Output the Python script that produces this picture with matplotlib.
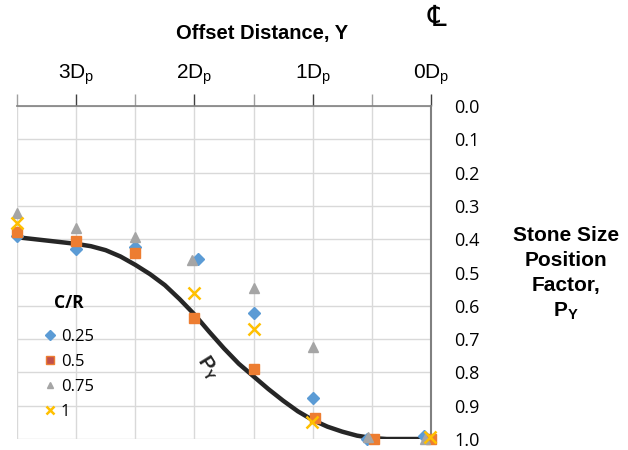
import numpy as np
import matplotlib
matplotlib.use("Agg")
import matplotlib.pyplot as plt
from matplotlib.ticker import FixedLocator, FormatStrFormatter

plt.rcParams['mathtext.fontset'] = 'custom'
plt.rcParams['mathtext.rm'] = 'Liberation Sans'
plt.rcParams['mathtext.bf'] = 'Liberation Sans:bold'

# offset distance in pile diameters (Dp), and P_Y values
x_025 = [3.5, 3.0, 2.5, 1.97, 1.5, 1.0, 0.54, 0.06]
y_025 = [0.39, 0.43, 0.422, 0.46, 0.623, 0.878, 1.0, 0.99]

x_05 = [3.5, 3.0, 2.5, 2.0, 1.5, 0.98, 0.48, 0.0]
y_05 = [0.377, 0.404, 0.44, 0.638, 0.79, 0.936, 1.0, 1.0]

x_075 = [3.5, 3.0, 2.5, 2.02, 1.5, 1.0, 0.53, 0.05]
y_075 = [0.322, 0.367, 0.394, 0.462, 0.546, 0.723, 0.995, 1.0]

x_1 = [3.5, 2.0, 1.5, 1.01, 0.01]
y_1 = [0.35, 0.5625, 0.67, 0.95, 0.995]

# design curve P_Y
curve_x = [3.5, 3.375, 3.25, 3.125, 3.0, 2.875, 2.75, 2.625, 2.5, 2.375, 2.25,
           2.125, 2.0, 1.875, 1.75, 1.625, 1.5, 1.375, 1.25, 1.125, 1.0, 0.875,
           0.75, 0.625, 0.5, 0.375, 0.25, 0.0]
curve_y = [0.394, 0.399, 0.404, 0.409, 0.414, 0.421, 0.433, 0.452, 0.477, 0.505, 0.538,
           0.580, 0.626, 0.678, 0.728, 0.774, 0.812, 0.850, 0.885, 0.917, 0.943, 0.963,
           0.978, 0.990, 0.997, 1.0, 1.0, 1.0]

major_x = [3, 2, 1, 0]
major_lbl = [r'$\mathrm{3D_p}$', r'$\mathrm{2D_p}$', r'$\mathrm{1D_p}$', r'$\mathrm{0D_p}$']
minor_x = [3.5, 2.5, 1.5, 0.5]
y_ticks = [0.0, 0.1, 0.2, 0.3, 0.4, 0.5, 0.6, 0.7, 0.8, 0.9, 1.0]

fig = plt.figure(figsize=(6.28, 4.5), dpi=100)
ax = fig.add_axes([17/628, 1-439/450, (431-17)/628, (439-106)/450])

ax.plot(curve_x, curve_y, color='#262626', lw=3.2, zorder=3, solid_capstyle='butt')

ax.plot(x_025, y_025, 'D', ms=6, color='#5B9BD5', mec='#5B9BD5', ls='none',
        label='0.25', zorder=4, clip_on=False)
ax.plot(x_05, y_05, 's', ms=7.5, color='#ED7D31', mec='#ED7D31', ls='none',
        label='0.5', zorder=4, clip_on=False)
ax.plot(x_075, y_075, '^', ms=7.5, color='#A5A5A5', mec='#A5A5A5', ls='none',
        label='0.75', zorder=4, clip_on=False)
ax.plot(x_1, y_1, 'x', ms=8.5, mew=1.8, color='#FFC000', ls='none',
        label='1', zorder=5, clip_on=False)

ax.set_xlim(3.5, 0)
ax.set_ylim(1.0, 0.0)

ax.xaxis.tick_top()
ax.xaxis.set_major_locator(FixedLocator(major_x))
ax.xaxis.set_minor_locator(FixedLocator(minor_x))
ax.set_xticklabels(major_lbl)
ax.tick_params(axis='x', which='major', direction='out', length=9, width=1.0,
               color='#404040', pad=5, labelsize=15)
ax.tick_params(axis='x', which='minor', direction='out', length=9, width=1.0, color='#A0A0A0')

ax.yaxis.tick_right()
ax.set_yticks(y_ticks)
ax.yaxis.set_major_formatter(FormatStrFormatter('%.1f'))
ax.tick_params(axis='y', length=0, pad=17, labelsize=13)
for t in ax.get_yticklabels():
    t.set_fontfamily('Open Sans')
    t.set_horizontalalignment('left')

ax.grid(True, which='both', axis='x', color='#D9D9D9', lw=1.0, zorder=0)
ax.grid(True, which='major', axis='y', color='#D9D9D9', lw=1.0, zorder=0)
ax.set_axisbelow(True)

for s in ['left', 'bottom']:
    ax.spines[s].set_visible(False)
ax.spines['top'].set_color('#808080')
ax.spines['right'].set_color('#808080')
ax.spines['top'].set_linewidth(1.2)
ax.spines['right'].set_linewidth(1.5)

ax.text(1.885, 0.785, r'P$_\mathregular{Y}$', rotation=-58, ha='center', va='center',
        fontsize=14.5, fontweight='bold', color='#262626', family='Liberation Sans')

leg = ax.legend(loc='upper left', bbox_to_anchor=(44/628, 1-294/450), bbox_transform=fig.transFigure,
                frameon=False, title='C/R', handlelength=0.7, handletextpad=0.3,
                labelspacing=0.55, borderpad=0, borderaxespad=0, markerscale=0.75,
                prop={'family': 'Open Sans', 'size': 12},
                title_fontproperties={'family': 'Open Sans', 'weight': 'bold', 'size': 12.5})
leg.legend_handles[0].set_markersize(5.5)
leg.legend_handles[1].set_markerfacecolor('#C0504D')
leg.legend_handles[2].set_markersize(5.0)
leg._legend_box.sep = 12

fig.text(262/628, 1-33/450, 'Offset Distance, Y', ha='center', va='center',
         fontsize=14.5, fontweight='bold', family='Liberation Sans')
fig.text(437/628, 1-18/450, '\u2104', ha='center', va='center', fontsize=21,
         family=['DejaVu Serif', 'DejaVu Sans', 'Liberation Serif', 'Noto Sans',
                 'Noto Sans CJK SC', 'Noto Sans CJK JP'])
fig.text(566/628, 1-274/450, 'Stone Size\nPosition\nFactor,\n' + r'$\mathbf{P_Y}$',
         ha='center', va='center', fontsize=15, fontweight='bold',
         family='Liberation Sans', linespacing=1.4)

fig.savefig('out.png', dpi=100, facecolor='white')
